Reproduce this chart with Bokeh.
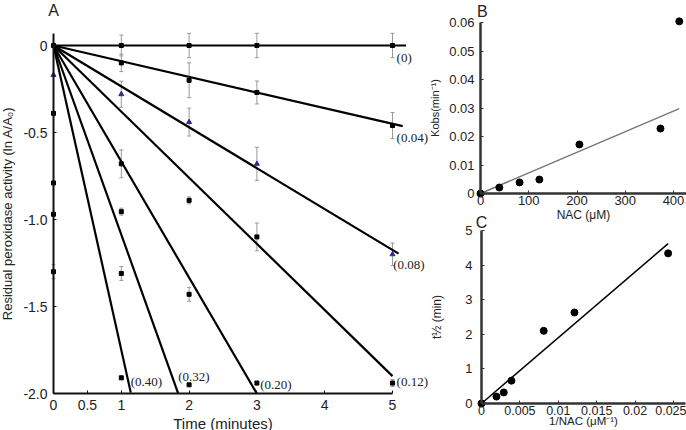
from bokeh.plotting import figure
from bokeh.models import (ColumnDataSource, Whisker, TeeHead, Label, LabelSet, FixedTicker,
                          LinearAxis, Range1d)
from bokeh.embed import file_html
from bokeh.resources import INLINE

# ---------------- Panel A data ----------------
conc_labels = ["(0)", "(0.04)", "(0.08)", "(0.12)", "(0.20)", "(0.32)", "(0.40)"]
fit_slopes = [0.0, -0.09, -0.235, -0.38, -0.667, -1.087, -1.75]
fit_end_t = [5.2, 5.15, 5.09, 5.0, 3.0, 1.84, 1.14]
label_t = [5.06, 5.06, 5.01, 5.06, 3.05, 1.84, 1.14]
label_y = [-0.07, -0.53, -1.26, -1.93, -1.95, -1.90, -1.93]

# squares (black)
sq_t = [0, 1, 2, 3, 5,
        1, 2, 3, 5,
        0, 1, 2, 3, 5,
        0, 1, 2, 3,
        0, 1, 2,
        0, 1]
sq_y = [0.0, 0.0, 0.0, 0.0, 0.0,
        -0.10, -0.20, -0.27, -0.46,
        -0.39, -0.68, -0.89, -1.10, -1.94,
        -0.79, -0.955, -1.43, -1.94,
        -0.97, -1.31, -1.95,
        -1.30, -1.91]
sq_err = [0.0, 0.06, 0.07, 0.07, 0.07,
          0.05, 0.10, 0.066, 0.075,
          0.0, 0.08, 0.02, 0.08, 0.02,
          0.0, 0.02, 0.04, 0.01,
          0.0, 0.04, 0.0,
          0.04, 0.01]
# triangles (blue, 0.08 series)
tri_t = [0, 1, 2, 3, 5]
tri_y = [-0.17, -0.28, -0.44, -0.68, -1.20]
tri_err = [0.0, 0.075, 0.08, 0.095, 0.065]

a_xticks = [0, 0.5, 1, 2, 3, 4, 5]
a_xlabels = ["0", "0.5", "1", "2", "3", "4", "5"]
a_yticks = [0, -0.5, -1.0, -1.5, -2.0]
a_ylabels = ["0", "-0.5", "-1.0", "-1.5", "-2.0"]

# ---------------- Panel B data ----------------
nac = [0, 39, 81, 122, 205, 373, 412]
kobs = [0.0, 0.0021, 0.0039, 0.0049, 0.0172, 0.0228, 0.0604]
b_fit_x = [0, 412]
b_fit_y = [0.0, 0.0298]
b_xticks = [0, 100, 200, 300, 400]
b_xlabels = ["0", "100", "200", "300", "400"]
b_yticks = [0, 0.01, 0.02, 0.03, 0.04, 0.05, 0.06]
b_ylabels = ["0", "0.01", "0.02", "0.03", "0.04", "0.05", "0.06"]

# ---------------- Panel C data ----------------
inv_nac = [0, 0.00195, 0.0029, 0.0039, 0.0081, 0.0121, 0.0243]
t_half = [0.0, 0.2, 0.32, 0.66, 2.1, 2.63, 4.34]
c_fit_x = [0, 0.0243]
c_fit_y = [0.0, 4.62]
c_xticks = [0, 0.005, 0.01, 0.015, 0.02, 0.025]
c_xlabels = ["0", "0.005", "0.01", "0.015", "0.02", "0.025"]
c_yticks = [0, 1, 2, 3, 4, 5]
c_ylabels = ["0", "1", "2", "3", "4", "5"]

SANS = "Liberation Sans"
SERIF = "Liberation Serif"
TXT = "#222222"
W, H = 686, 430


def xr(origin_px, ppu):
    return Range1d(-origin_px / ppu, (W - origin_px) / ppu)


def yr(origin_px, ppu):
    return Range1d((origin_px - H) / ppu, origin_px / ppu)


p = figure(width=W, height=H, x_range=xr(53, 67.8), y_range=yr(45, 174),
           x_axis_location=None, y_axis_location=None, toolbar_location=None,
           output_backend="svg", min_border=0, min_border_left=0, min_border_right=0,
           min_border_top=0, min_border_bottom=0)
p.extra_x_ranges = {"B": xr(480, 0.4825), "C": xr(481, 7680)}
p.extra_y_ranges = {"B": yr(193, 2850), "C": yr(403, 34.6)}
p.outline_line_color = None
p.grid.grid_line_color = None
p.title.text = ""


def make_axis(kind, rname, loc, bounds, ticks, labels, tick_size, color, lw,
              title="", title_size="12px", lab_standoff=4, title_standoff=3):
    ax = LinearAxis(x_range_name=rname, y_range_name=rname, fixed_location=loc, bounds=bounds,
                    ticker=FixedTicker(ticks=ticks),
                    major_label_overrides=dict(zip(ticks, labels)))
    ax.axis_line_color = color
    ax.axis_line_width = lw
    ax.major_tick_in = 3
    ax.major_tick_out = 0
    ax.minor_tick_line_color = None
    ax.major_tick_line_color = color
    ax.major_tick_line_width = 1
    ax.major_label_text_font = SANS
    ax.major_label_text_font_size = tick_size
    ax.major_label_text_color = TXT
    ax.major_label_standoff = lab_standoff
    if title:
        ax.axis_label = title
        ax.axis_label_text_font = SANS
        ax.axis_label_text_font_size = title_size
        ax.axis_label_text_font_style = "normal"
        ax.axis_label_text_color = TXT
        ax.axis_label_standoff = title_standoff
    p.add_layout(ax, "below" if kind == "x" else "left")
    return ax


# ---------------- Panel A ----------------
make_axis("x", "default", -2.0, (0, 5), a_xticks, a_xlabels, "14px", "#111111", 2,
          title="Time (minutes)", title_size="15px", lab_standoff=6, title_standoff=2)
make_axis("y", "default", 0, (-2.0, 0.069), a_yticks, a_ylabels, "14px", "#111111", 2,
          title="Residual peroxidase activity (ln A/A\u2080)", title_size="13px",
          lab_standoff=6, title_standoff=5)

fit_xs = [[0, e] for e in fit_end_t]
fit_ys = [[0, s * e] for s, e in zip(fit_slopes, fit_end_t)]
p.multi_line(xs=fit_xs, ys=fit_ys, line_color="black", line_width=2.2)

sq_src = ColumnDataSource(dict(t=sq_t, y=sq_y,
                               lo=[y - e for y, e in zip(sq_y, sq_err)],
                               hi=[y + e for y, e in zip(sq_y, sq_err)]))
tri_src = ColumnDataSource(dict(t=tri_t, y=tri_y,
                                lo=[y - e for y, e in zip(tri_y, tri_err)],
                                hi=[y + e for y, e in zip(tri_y, tri_err)]))
for src in (sq_src, tri_src):
    p.add_layout(Whisker(source=src, base="t", upper="hi", lower="lo",
                         line_color="#999999", line_width=1,
                         upper_head=TeeHead(size=4, line_color="#999999", line_width=1),
                         lower_head=TeeHead(size=4, line_color="#999999", line_width=1)))
p.scatter("t", "y", source=sq_src, marker="square", size=4, color="black")
p.scatter("t", "y", source=tri_src, marker="triangle", size=5, color="#2d2d8f")

lab_src = ColumnDataSource(dict(x=label_t, y=label_y, text=conc_labels))
p.add_layout(LabelSet(x="x", y="y", text="text", source=lab_src, text_font=SERIF,
                      text_font_size="13px", text_baseline="middle", text_align="left",
                      text_color=TXT))
p.add_layout(Label(x=0, y=0.2, text="A", text_font=SANS, text_font_size="16px",
                   text_align="center", text_baseline="middle", text_color=TXT))

# ---------------- Panel B ----------------
make_axis("x", "B", 0, (0, 427), b_xticks, b_xlabels, "13px", "#333333", 2.5,
          title="NAC (\u03bcM)", title_size="12px", lab_standoff=2, title_standoff=0)
make_axis("y", "B", 0, (0, 0.06), b_yticks, b_ylabels, "13px", "#333333", 2.5,
          title="Kobs(min\u207b\u00b9)", title_size="11px", lab_standoff=6, title_standoff=5)
p.line(b_fit_x, b_fit_y, line_color="#777777", line_width=1.5,
       x_range_name="B", y_range_name="B")
p.scatter(nac, kobs, size=7, color="black", x_range_name="B", y_range_name="B")
p.add_layout(Label(x=4, y=0.0639, x_range_name="B", y_range_name="B", text="B",
                   text_font=SANS, text_font_size="16px", text_align="center",
                   text_baseline="middle", text_color=TXT))

# ---------------- Panel C ----------------
make_axis("x", "C", 0, (0, 0.0266), c_xticks, c_xlabels, "12.5px", "#333333", 2.5,
          title="1/NAC (\u03bcM\u207b\u00b9)", title_size="11.5px", lab_standoff=2,
          title_standoff=-3)
make_axis("y", "C", 0, (0, 5), c_yticks, c_ylabels, "13px", "#333333", 2.5,
          title="t\u00bd (min)", title_size="12px", lab_standoff=9, title_standoff=18)
p.line(c_fit_x, c_fit_y, line_color="black", line_width=1.5,
       x_range_name="C", y_range_name="C")
p.scatter(inv_nac, t_half, size=7, color="black", x_range_name="C", y_range_name="C")
p.add_layout(Label(x=0, y=5.23, x_range_name="C", y_range_name="C", text="C",
                   text_font=SANS, text_font_size="16px", text_align="center",
                   text_baseline="middle", text_color=TXT))

open("out.html", "w").write(file_html(p, INLINE))
